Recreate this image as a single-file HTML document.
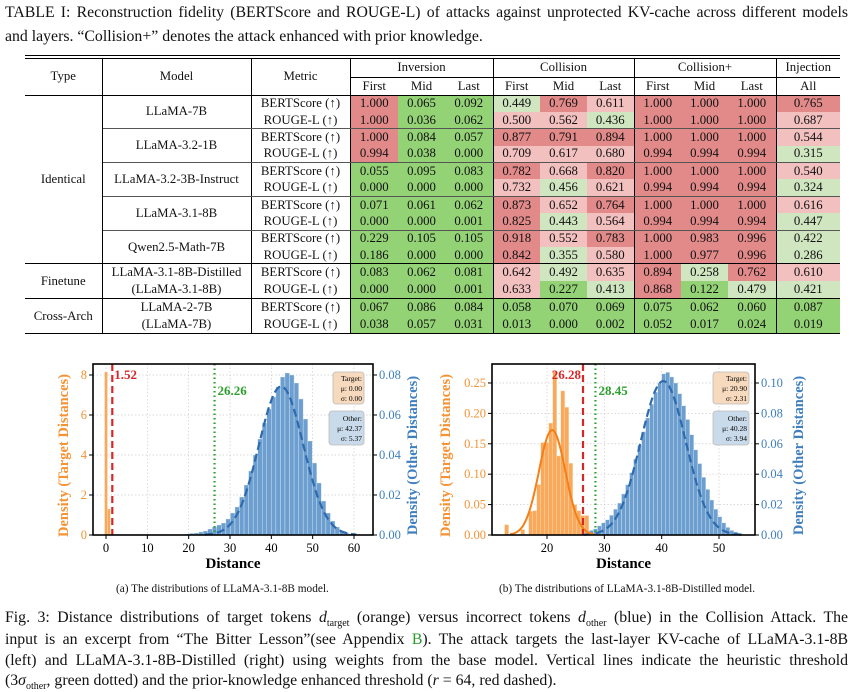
<!DOCTYPE html>
<html><head><meta charset="utf-8">
<style>
body{margin:0;width:860px;height:687px;background:#fff;position:relative;overflow:hidden;font-family:"Liberation Serif",serif;color:#111}
.ln{position:absolute;left:5px;width:843px;font-size:15.8px;line-height:20px;white-space:nowrap}
.j{text-align:justify;text-align-last:justify;white-space:normal}
#tbl{position:absolute;left:25px;top:58px;border-collapse:collapse;table-layout:fixed;font-size:12.8px}
#tbl td{padding:0;text-align:center;height:16.4px;line-height:15px;overflow:hidden;white-space:nowrap}
.rd{background:#e28a8a}.pk{background:#f3c0c0}.lg{background:#d0e6c0}.gr{background:#94d276}
svg{position:absolute;left:0;top:0}
.sub{position:absolute;top:583px;font-size:11.3px;white-space:nowrap}
</style></head><body>
<div class="ln j" style="top:3px">TABLE I: Reconstruction fidelity (BERTScore and ROUGE-L) of attacks against unprotected KV-cache across different models</div>
<div class="ln" style="top:27px">and layers. “Collision+” denotes the attack enhanced with prior knowledge.</div>
<div style="position:absolute;left:25px;top:55px;width:815px;height:2px;border-top:1px solid #000;border-bottom:1px solid #000"></div>
<table id="tbl"></table>
<svg id="chart" width="860" height="687"></svg>
<div class="sub" style="left:116px">(a) The distributions of LLaMA-3.1-8B model.</div>
<div class="sub" style="left:499px">(b) The distributions of LLaMA-3.1-8B-Distilled model.</div>
<div class="ln j" style="top:608px">Fig. 3: Distance distributions of target tokens <i>d</i><sub style="font-size:10px;line-height:0">target</sub> (orange) versus incorrect tokens <i>d</i><sub style="font-size:10px;line-height:0">other</sub> (blue) in the Collision Attack. The</div>
<div class="ln j" style="top:630px">input is an excerpt from “The Bitter Lesson”(see Appendix <span style="color:#2a9a2a">B</span>). The attack targets the last-layer KV-cache of LLaMA-3.1-8B</div>
<div class="ln j" style="top:651px">(left) and LLaMA-3.1-8B-Distilled (right) using weights from the base model. Vertical lines indicate the heuristic threshold</div>
<div class="ln" style="top:671px">(3<i>σ</i><sub style="font-size:10px;line-height:0">other</sub>, green dotted) and the prior-knowledge enhanced threshold (<i>r</i> = 64, red dashed).</div>
<script>
// ---------- table data ----------
const models=["LLaMA-7B","LLaMA-3.2-1B","LLaMA-3.2-3B-Instruct","LLaMA-3.1-8B","Qwen2.5-Math-7B","LLaMA-3.1-8B-Distilled|(LLaMA-3.1-8B)","LLaMA-2-7B|(LLaMA-7B)"];
const types=[["Identical",5],["Finetune",1],["Cross-Arch",1]];
const rows=[
["1.000","0.065","0.092","0.449","0.769","0.611","1.000","1.000","1.000","0.765"],
["1.000","0.036","0.062","0.500","0.562","0.436","1.000","1.000","1.000","0.687"],
["1.000","0.084","0.057","0.877","0.791","0.894","1.000","1.000","1.000","0.544"],
["0.994","0.038","0.000","0.709","0.617","0.680","0.994","0.994","0.994","0.315"],
["0.055","0.095","0.083","0.782","0.668","0.820","1.000","1.000","1.000","0.540"],
["0.000","0.000","0.000","0.732","0.456","0.621","0.994","0.994","0.994","0.324"],
["0.071","0.061","0.062","0.873","0.652","0.764","1.000","1.000","1.000","0.616"],
["0.000","0.000","0.001","0.825","0.443","0.564","0.994","0.994","0.994","0.447"],
["0.229","0.105","0.105","0.918","0.552","0.783","1.000","0.983","0.996","0.422"],
["0.186","0.000","0.000","0.842","0.355","0.580","1.000","0.977","0.996","0.286"],
["0.083","0.062","0.081","0.642","0.492","0.635","0.894","0.258","0.762","0.610"],
["0.000","0.000","0.001","0.633","0.227","0.413","0.868","0.122","0.479","0.421"],
["0.067","0.086","0.084","0.058","0.070","0.069","0.075","0.062","0.060","0.087"],
["0.038","0.057","0.031","0.013","0.000","0.002","0.052","0.017","0.024","0.019"]];
const tb=document.getElementById('tbl');
const cg=document.createElement('colgroup');
[77,149,99,48,47,48,47,47,47,47,47,48,64].forEach(w=>{const c=document.createElement('col');c.style.width=w+'px';cg.appendChild(c);});
tb.appendChild(cg);
const B='1px solid #000';
function cls(v){v=+v;return v>=0.75?'rd':v>=0.5?'pk':v>=0.25?'lg':'gr';}
let h1=document.createElement('tr');
h1.innerHTML='<td rowspan="2" style="border-right:'+B+';border-bottom:'+B+'">Type</td><td rowspan="2" style="border-right:'+B+';border-bottom:'+B+'">Model</td><td rowspan="2" style="border-right:'+B+';border-bottom:'+B+'">Metric</td><td colspan="3" style="border-bottom:'+B+';border-right:'+B+';height:19px">Inversion</td><td colspan="3" style="border-bottom:'+B+';border-right:'+B+'">Collision</td><td colspan="3" style="border-bottom:'+B+';border-right:'+B+'">Collision+</td><td style="border-bottom:'+B+'">Injection</td>';


tb.appendChild(h1);
let h2=document.createElement('tr');
let s='';['First','Mid','Last','First','Mid','Last','First','Mid','Last','All'].forEach((t,i)=>{s+='<td style="height:16.5px;border-bottom:'+B+';'+((i==2||i==5||i==8)?'border-right:'+B:'')+'">'+t+'</td>';});
h2.innerHTML=s;


tb.appendChild(h2);
let typeStart={0:0,5:1,6:2};
rows.forEach((r,i)=>{
  const tr=document.createElement('tr');
  const m=Math.floor(i/2);
  const last=(i%2==1);
  const bb=last?(m==4||m==5||m==6?'1.5px solid #000':'1px solid #555'):'none';
  let html='';
  if(i%2==0 && typeStart[m]!==undefined){const t=types[typeStart[m]];html+='<td rowspan="'+(t[1]*2)+'" style="border-right:'+B+';border-bottom:1.5px solid #000">'+t[0]+'</td>';}
  if(i%2==0){html+='<td rowspan="2" style="border-right:'+B+';border-bottom:'+(m==4||m==5||m==6?'1.5px solid #000':'1px solid #555')+';line-height:17px">'+models[m].replace('|','<br>')+'</td>';}
  html+='<td style="border-right:'+B+';border-bottom:'+bb+'">'+(i%2==0?'BERTScore (↑)':'ROUGE-L (↑)')+'</td>';
  r.forEach((v,j)=>{html+='<td class="'+cls(v)+'" style="border-bottom:'+bb+';'+((j==2||j==5||j==8)?'border-right:'+B:'')+'">'+v+'</td>';});
  tr.innerHTML=html;
  
  
  tb.appendChild(tr);
});

// ---------- chart data ----------
const aTargetBinStart=-0.35, aTargetBinW=0.7;
const aTargetVals=[8.15,1.3];
const aOtherBinStart=0.4, aOtherBinW=1.1;
const aOtherVals=[0.0003,0.0003,0.0003,0.0003,0.0003,0.0003,0.0003,0.0003,0.0003,0.0003,0.0003,0.0003,0.0003,0.0003,0.0003,0.0003,0.0003,0.0005,0.0008,0.001,0.0015,0.002,0.003,0.004,0.005,0.006,0.008,0.011,0.014,0.019,0.025,0.032,0.040,0.048,0.056,0.063,0.069,0.074,0.079,0.081,0.080,0.076,0.068,0.058,0.047,0.036,0.026,0.017,0.011,0.007,0.004,0.002,0.0012,0.0006,0.0003];
const aStats={tMu:0.00,tSd:0.00,oMu:42.37,oSd:5.37,red:1.52,green:26.26};
const bTargetBinStart=12.6, bTargetBinW=0.7;
const bTargetVals=[0.017,0,0,0,0.009,0,0.039,0.040,0.083,0.152,0.152,0.184,0.269,0.130,0.237,0.210,0.118,0.050,0.040,0.032,0.032];
const bOtherBinStart=26.0, bOtherBinW=0.7;
const bOtherVals=[0.001,0.002,0.003,0.004,0.006,0.008,0.010,0.013,0.017,0.021,0.027,0.033,0.041,0.050,0.059,0.068,0.077,0.086,0.094,0.100,0.106,0.107,0.104,0.100,0.093,0.085,0.076,0.066,0.056,0.047,0.038,0.030,0.023,0.017,0.012,0.008,0.005,0.003,0.002,0.001];
const bStats={tMu:20.90,tSd:2.31,oMu:40.28,oSd:3.94,red:26.28,green:28.45};
const aXTicks=[0,10,20,30,40,50,60], aYLTicks=[0,2,4,6,8], aYRTicks=[0,0.02,0.04,0.06,0.08];
const bXTicks=[20,30,40,50], bYLTicks=[0,0.05,0.10,0.15,0.20,0.25], bYRTicks=[0,0.02,0.04,0.06,0.08,0.10];

const NS='http://www.w3.org/2000/svg';
const svg=document.getElementById('chart');
function el(t,a,p){const e=document.createElementNS(NS,t);for(const k in a)e.setAttribute(k,a[k]);(p||svg).appendChild(e);return e;}
function txt(p,x,y,s,a){const e=el('text',Object.assign({x:x,y:y},a),p);e.textContent=s;return e;}
const ORG='#f59233', BLU='#3f7fbf';
function drawChart(id,box,xd,yl,yr,xt,ylt,yrt,ylfmt,yrfmt,tStart,tW,tVals,oStart,oW,oVals,st,showTCurve,redLeft){
  const g=el('g',{});
  
  
  const X=d=>box.l+(d-xd[0])/(xd[1]-xd[0])*(box.r-box.l);
  const YL=v=>box.b-(v-yl[0])/(yl[1]-yl[0])*(box.b-box.t);
  const YR=v=>box.b-(v-yr[0])/(yr[1]-yr[0])*(box.b-box.t);
  xt.forEach(v=>{const l=el('line',{x1:X(v),x2:X(v),y1:box.t,y2:box.b,stroke:'#ccc','stroke-width':0.7,'stroke-dasharray':'1.5,2'},g);});
  ylt.forEach(v=>{const l=el('line',{x1:box.l,x2:box.r,y1:YL(v),y2:YL(v),stroke:'#ccc','stroke-width':0.7,'stroke-dasharray':'1.5,2'},g);});
  oVals.forEach((v,i)=>{const x0=X(oStart+i*oW),x1=X(oStart+(i+1)*oW);const r=el('rect',{x:x0,y:YR(v),width:Math.max(0.5,x1-x0),height:box.b-YR(v),fill:'#6c9fcf',stroke:'#dfe9f3','stroke-width':0.4},g);});
  tVals.forEach((v,i)=>{if(v<=0)return;const x0=X(tStart+i*tW),x1=X(tStart+(i+1)*tW);const r=el('rect',{x:x0,y:YL(v),width:x1-x0,height:box.b-YL(v),fill:'#f9a95c',stroke:'#fde0c0','stroke-width':0.4},g);});
  let p='';for(let i=0;i<=200;i++){const d=xd[0]+(xd[1]-xd[0])*i/200;const v=Math.exp(-0.5*Math.pow((d-st.oMu)/st.oSd,2))/(st.oSd*Math.sqrt(2*Math.PI));if(v<0.0002)continue;p+=(p?'L':'M')+X(d).toFixed(1)+','+YR(v).toFixed(1);}
  const oc=el('path',{d:p,fill:'none',stroke:'#2e6aad','stroke-width':2.2,'stroke-dasharray':'8,4'},g);
  
  
  if(showTCurve){let q='';for(let i=0;i<=200;i++){const d=st.tMu-6*st.tSd+12*st.tSd*i/200;const v=Math.exp(-0.5*Math.pow((d-st.tMu)/st.tSd,2))/(st.tSd*Math.sqrt(2*Math.PI));if(v<0.001)continue;q+=(q?'L':'M')+X(d).toFixed(1)+','+YL(v).toFixed(1);}
    const tc=el('path',{d:q,fill:'none',stroke:'#f57f17','stroke-width':2},g);
    
    }
  const rl=el('line',{x1:X(st.red),x2:X(st.red),y1:box.t,y2:box.b,stroke:'#d62728','stroke-width':2.2,'stroke-dasharray':'7,4'},g);
  
  
  const gl=el('line',{x1:X(st.green),x2:X(st.green),y1:box.t,y2:box.b,stroke:'#2ca02c','stroke-width':2.2,'stroke-dasharray':'1.5,3'},g);
  
  
  const rt=txt(g,redLeft?X(st.red)-2:X(st.red)+2,box.t+15,st.red.toFixed(2),{fill:'#d62728','font-size':13,'font-weight':'bold','text-anchor':redLeft?'end':'start'});
  
  
  const gt=txt(g,X(st.green)+3,box.t+31,st.green.toFixed(2),{fill:'#2ca02c','font-size':13,'font-weight':'bold'});
  
  
  const bx=box.r-(id=='chart-a'?40:42), bw=id=='chart-a'?31:36;
  const b1=el('rect',{x:bx,y:box.t+8,width:bw,height:32,rx:3,fill:'#f7d9bd',stroke:'#bbb','stroke-width':0.8},g);
  
  
  ['Target:','μ: '+st.tMu.toFixed(2),'σ: '+st.tSd.toFixed(2)].forEach((s,i)=>txt(g,bx+bw-2,box.t+17+i*10,s,{'font-size':7.5,'text-anchor':'end'}));
  const b2=el('rect',{x:bx-(id=='chart-a'?4:0),y:box.t+47,width:bw+(id=='chart-a'?4:0),height:34,rx:3,fill:'#c9dbeb',stroke:'#bbb','stroke-width':0.8},g);
  
  
  ['Other:','μ: '+st.oMu.toFixed(2),'σ: '+st.oSd.toFixed(2)].forEach((s,i)=>txt(g,bx+bw-2,box.t+57+i*10,s,{'font-size':7.5,'text-anchor':'end'}));
  const fr=el('rect',{x:box.l,y:box.t,width:box.r-box.l,height:box.b-box.t,fill:'none',stroke:'#000','stroke-width':1.6},g);
  
  
  xt.forEach(v=>{el('line',{x1:X(v),x2:X(v),y1:box.b,y2:box.b+4,stroke:'#000'},g);const t=txt(g,X(v),box.b+17,String(v),{'font-size':12.5,'text-anchor':'middle'});});
  ylt.forEach(v=>{el('line',{x1:box.l-4,x2:box.l,y1:YL(v),y2:YL(v),stroke:'#000'},g);const t=txt(g,box.l-6,YL(v)+4,ylfmt(v),{'font-size':12.5,'text-anchor':'end',fill:ORG});});
  yrt.forEach(v=>{el('line',{x1:box.r,x2:box.r+4,y1:YR(v),y2:YR(v),stroke:'#000'},g);const t=txt(g,box.r+6,YR(v)+4,yrfmt(v),{'font-size':12.5,fill:BLU});});
  const xl=txt(g,(box.l+box.r)/2,box.b+33,'Distance',{'font-size':15,'font-weight':'bold','text-anchor':'middle'});
  
  
  const cy=(box.t+box.b)/2+6;
  const lx=box.l-(id=='chart-a'?25:42);
  const yl1=txt(g,lx,cy,'Density (Target Distances)',{'font-size':14.5,'font-weight':'bold','text-anchor':'middle',fill:ORG,transform:'rotate(-90 '+lx+' '+cy+')'});
  
  
  const rx=box.r+(id=='chart-a'?44:48);
  const yl2=txt(g,rx,cy,'Density (Other Distances)',{'font-size':14.5,'font-weight':'bold','text-anchor':'middle',fill:BLU,transform:'rotate(-90 '+rx+' '+cy+')'});
  
  
}
drawChart('chart-a',{l:93,r:373,t:364,b:535},[-3.15,64.6],[0,8.55],[0,0.0855],aXTicks,aYLTicks,aYRTicks,v=>String(v),v=>v.toFixed(2),aTargetBinStart,aTargetBinW,aTargetVals,aOtherBinStart,aOtherBinW,aOtherVals,aStats,false,false);
drawChart('chart-b',{l:492,r:755,t:364,b:535},[20-55/5.733,20+208/5.733],[0,0.2812],[0,0.1125],bXTicks,bYLTicks,bYRTicks,v=>v.toFixed(2),v=>v.toFixed(2),bTargetBinStart,bTargetBinW,bTargetVals,bOtherBinStart,bOtherBinW,bOtherVals,bStats,true,true);
</script>
</body></html>
